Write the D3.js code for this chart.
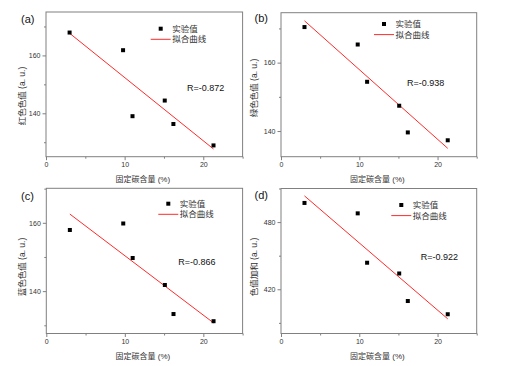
<!DOCTYPE html>
<html><head><meta charset="utf-8">
<script src="https://cdn.jsdelivr.net/npm/d3@7"></script>
<style>body{margin:0;background:#fff}svg{display:block}</style>
</head><body><svg id="c" width="506" height="366"></svg>
<script>
// ---- data ----
const carbon = [3.0, 9.8, 11.0, 15.1, 16.2, 21.3];
const redValues = [167.9, 161.8, 139.0, 144.4, 136.3, 128.9];
const greenValues = [170.4, 165.3, 154.4, 147.4, 139.6, 137.3];
const blueValues = [157.9, 159.8, 149.7, 141.8, 133.3, 131.2];
const sumValues = [497.1, 487.8, 443.7, 434.1, 409.5, 397.7];
const rLabels = ["R=-0.872", "R=-0.938", "R=-0.866", "R=-0.922"];
const panelLabels = ["(a)", "(b)", "(c)", "(d)"];
const yTitles = ["红色色值 (a. u.)", "绿色色值 (a. u.)", "蓝色色值 (a. u.)", "色值加和 (a. u.)"];
const xTitle = "固定碳含量 (%)";
const legendLabels = ["实验值", "拟合曲线"];
const xTickLabels = [0, 10, 20];
const xMinorTicks = [5, 15, 25];
const yTickLabelsRGB = [140, 160];
const yTickLabelsSum = [420, 480];

// ---- layout ----
const panels = [
  {vals: redValues,   l: 46,  t: 12,    r: 242.6, b: 156.7, yd: [125, 175],    yt: yTickLabelsRGB, ym: [130,150,170],
   lab: [21, 19], yTitle: [22, 96], xTitleY: 179, xLabY: 164, leg: [160.7, 28.7], R: [187, 88]},
  {vals: greenValues, l: 281, t: 12.7,  r: 476.7, b: 156.7, yd: [132.5, 174.6], yt: yTickLabelsRGB, ym: [150,170],
   lab: [254.5, 18], yTitle: [254, 88], xTitleY: 179, xLabY: 164, leg: [384, 24], R: [407, 83]},
  {vals: blueValues,  l: 46.3,t: 188.3, r: 242.6, b: 333.5, yd: [127.6, 170.1], yt: yTickLabelsRGB, ym: [130,150,170],
   lab: [21, 196], yTitle: [22, 267], xTitleY: 356, xLabY: 341, leg: [168.3, 203.7], R: [178.3, 262]},
  {vals: sumValues,   l: 281, t: 188.5, r: 476.7, b: 333.5, yd: [380.5, 510],   yt: yTickLabelsSum, ym: [390,450,510],
   lab: [254.5, 195], yTitle: [254, 267], xTitleY: 356, xLabY: 341, leg: [401.3, 205], R: [420.7, 257.3]}
];

const svg = d3.select("#c");
const axisCol = "#808080", textCol = "#333";
const cjk = "'Liberation Sans', 'Noto Sans CJK SC', sans-serif", lat = "Arial, 'Liberation Sans', sans-serif";

panels.forEach((p, i) => {
  const g = svg.append("g");
  const x = d3.scaleLinear().domain([0, 25]).range([p.l, p.r]);
  const y = d3.scaleLinear().domain(p.yd).range([p.b, p.t]);

  // frame
  g.append("rect").attr("x", p.l).attr("y", p.t).attr("width", p.r - p.l).attr("height", p.b - p.t)
    .attr("fill", "none").attr("stroke", axisCol).attr("stroke-width", 1);

  // x axis
  g.append("g").attr("transform", `translate(0,${p.b})`)
    .call(d3.axisBottom(x).tickValues(xTickLabels).tickSize(3.5).tickPadding(2).tickFormat(d3.format("d")));
  g.append("g").attr("transform", `translate(0,${p.b})`)
    .call(d3.axisBottom(x).tickValues(xMinorTicks).tickSize(2).tickFormat(""));
  // y axis
  g.append("g").attr("transform", `translate(${p.l},0)`)
    .call(d3.axisLeft(y).tickValues(p.yt).tickSize(3.5).tickPadding(2).tickFormat(d3.format("d")));
  g.append("g").attr("transform", `translate(${p.l},0)`)
    .call(d3.axisLeft(y).tickValues(p.ym).tickSize(2).tickFormat(""));
  g.selectAll(".domain").remove();
  g.selectAll(".tick line").attr("stroke", axisCol);
  g.selectAll(".tick text").attr("fill", textCol).style("font-family", lat).style("font-size", "7px");

  // fit line (least squares)
  const n = carbon.length;
  const mx = d3.mean(carbon), my = d3.mean(p.vals);
  let sxy = 0, sxx = 0;
  for (let k = 0; k < n; k++) { sxy += (carbon[k]-mx)*(p.vals[k]-my); sxx += (carbon[k]-mx)**2; }
  const slope = sxy / sxx, icpt = my - slope * mx;
  const xs = d3.extent(carbon);
  g.append("line").attr("x1", x(xs[0])).attr("y1", y(icpt + slope*xs[0]))
    .attr("x2", x(xs[1])).attr("y2", y(icpt + slope*xs[1]))
    .attr("stroke", "#ff2a2a").attr("stroke-width", 1);

  // points
  g.selectAll("rect.pt").data(carbon).join("rect").attr("class", "pt")
    .attr("x", (d) => x(d) - 2).attr("y", (d, k) => y(p.vals[k]) - 2)
    .attr("width", 4).attr("height", 4).attr("fill", "#000");

  // legend
  g.append("rect").attr("x", p.leg[0]-2).attr("y", p.leg[1]-2).attr("width", 4).attr("height", 4).attr("fill", "#000");
  g.append("text").attr("x", p.leg[0]+11.5).attr("y", p.leg[1]).attr("dy", "0.35em")
    .attr("fill", textCol).style("font-family", cjk).style("font-size", "8.5px").text(legendLabels[0]);
  g.append("line").attr("x1", p.leg[0]-10).attr("x2", p.leg[0]+10).attr("y1", p.leg[1]+10.6).attr("y2", p.leg[1]+10.6)
    .attr("stroke", "#ff2a2a").attr("stroke-width", 1);
  g.append("text").attr("x", p.leg[0]+11.5).attr("y", p.leg[1]+10.6).attr("dy", "0.35em")
    .attr("fill", textCol).style("font-family", cjk).style("font-size", "8.5px").text(legendLabels[1]);

  // R label
  g.append("text").attr("x", p.R[0]).attr("y", p.R[1]).attr("dy", "0.35em")
    .attr("fill", "#111").style("font-family", lat).style("font-size", "9px").text(rLabels[i]);

  // panel label
  g.append("text").attr("x", p.lab[0]).attr("y", p.lab[1]).attr("dy", "0.35em")
    .attr("fill", "#111").style("font-family", lat).style("font-size", "11px").text(panelLabels[i]);

  // axis titles
  g.append("text").attr("x", (p.l + p.r)/2 - 1.5).attr("y", p.xTitleY).attr("dy", "0.35em")
    .attr("text-anchor", "middle").attr("fill", textCol).style("font-family", cjk).style("font-size", "8px").text(xTitle);
  g.append("text").attr("transform", `translate(${p.yTitle[0]},${p.yTitle[1]}) rotate(-90)`).attr("dy", "0.35em")
    .attr("text-anchor", "middle").attr("fill", textCol).style("font-family", cjk).style("font-size", "8.5px").text(yTitles[i]);
});
</script></body></html>
